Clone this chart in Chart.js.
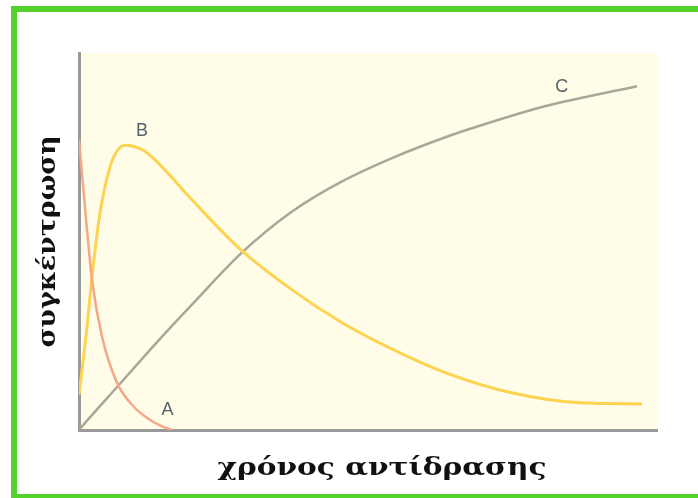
<!DOCTYPE html>
<html lang="el">
<head>
  <meta charset="UTF-8">
  <title>συγκέντρωση - χρόνος αντίδρασης</title>
  <script src="https://cdn.jsdelivr.net/npm/chart.js"></script>
  <style>
    body { margin: 0; background: #fff; }
    #frame {
      position: absolute; left: 11px; top: 6px;
      width: 700px; height: 482px;
      border: 6px solid #55d12b;
    }
    #wrap { position: absolute; left: 0; top: 0; width: 698px; height: 498px; }
  </style>
</head>
<body>
  <div id="frame"></div>
  <div id="wrap"><canvas id="chart" width="698" height="498"></canvas></div>

  <script>
    // (x: time 0-100, y: concentration 0-100)
    const aTime = [0, 1.39, 2.25, 3.99, 6.59, 9.53, 11.8, 14, 16.1];
    const aConc = [77, 53.1, 39.8, 24.7, 12.5, 6.1, 3.2, 1.2, 0];

    const bTime = [0, 1.39, 2.25, 3.64, 5.37, 6.59, 8.0, 9.5, 11.27, 13.86, 16.98, 19.58, 28.08, 36.92, 45.58, 53.73, 63.6, 75.04, 86.66, 97.4];
    const bConc = [9.3, 27.3, 40.6, 57.6, 69.8, 74.0, 75.5, 75.2, 74.1, 70.6, 65.4, 61.0, 47.7, 37.1, 28.4, 21.8, 15.1, 9.8, 7.2, 6.9];

    const cTime = [0, 1.39, 6.59, 13.86, 19.58, 28.08, 36.92, 45.58, 54.25, 62.91, 69.32, 80.94, 96.53];
    const cConc = [0, 2.5, 11.4, 23.9, 33.3, 46.9, 58.0, 66.0, 72.2, 77.4, 80.7, 86.0, 91.2];

    const curveNames = ['A', 'B', 'C'];
    const labelSpots = [[15.3, 5.3], [10.9, 79.3], [83.5, 91]];

    const xTitle = 'χρόνος αντίδρασης';
    const yTitle = 'συγκέντρωση';

    const pts = (xs, ys) => xs.map((x, i) => ({ x: x, y: ys[i] }));

    const areaBg = {
      id: 'areaBg',
      beforeDraw(chart) {
        const { ctx, chartArea: a } = chart;
        ctx.save();
        ctx.fillStyle = '#fffce8';
        ctx.fillRect(a.left, a.top, a.right - a.left, a.bottom - a.top);
        ctx.restore();
      }
    };

    // draw a title widened to the width it has in the original
    function wideText(ctx, text, width) {
      const w = ctx.measureText(text).width;
      ctx.save();
      ctx.scale(width / w, 1);
      ctx.fillText(text, 0, 0);
      ctx.restore();
    }

    const texts = {
      id: 'texts',
      afterDraw(chart) {
        const { ctx, chartArea: a } = chart;
        const sx = chart.scales.x, sy = chart.scales.y;
        ctx.save();
        ctx.fillStyle = '#56626e';
        ctx.font = '18px "Liberation Sans", Arial, sans-serif';
        ctx.textAlign = 'center';
        ctx.textBaseline = 'middle';
        curveNames.forEach((n, i) => {
          ctx.fillText(n, sx.getPixelForValue(labelSpots[i][0]), sy.getPixelForValue(labelSpots[i][1]));
        });

        ctx.fillStyle = '#111';
        ctx.font = 'bold 25px "DejaVu Serif", serif';
        ctx.save();
        ctx.translate((a.left + a.right) / 2 + 14, a.bottom + 38);
        wideText(ctx, xTitle, 329);
        ctx.restore();

        ctx.translate(a.left - 31, (a.top + a.bottom) / 2);
        ctx.rotate(-Math.PI / 2);
        wideText(ctx, yTitle, 212);
        ctx.restore();
      }
    };

    const ctx = document.getElementById('chart').getContext('2d');
    new Chart(ctx, {
      type: 'line',
      data: {
        datasets: [
          { label: 'A', data: pts(aTime, aConc), borderColor: '#f5a888', borderWidth: 2.5 },
          { label: 'B', data: pts(bTime, bConc), borderColor: '#fcd452', borderWidth: 3 },
          { label: 'C', data: pts(cTime, cConc), borderColor: '#aaa69a', borderWidth: 2.5 }
        ]
      },
      options: {
        responsive: false,
        animation: false,
        cubicInterpolationMode: 'monotone',
        elements: { point: { radius: 0 } },
        layout: { padding: { left: 71, right: 41, top: 53, bottom: 60 } },
        plugins: { legend: { display: false }, tooltip: { enabled: false } },
        scales: {
          x: {
            type: 'linear', min: 0, max: 100,
            grid: { display: false },
            ticks: { display: false },
            border: { color: '#999', width: 3 }
          },
          y: {
            min: 0, max: 100,
            grid: { display: false },
            ticks: { display: false },
            border: { color: '#999', width: 3 }
          }
        }
      },
      plugins: [areaBg, texts]
    });
  </script>
</body>
</html>
